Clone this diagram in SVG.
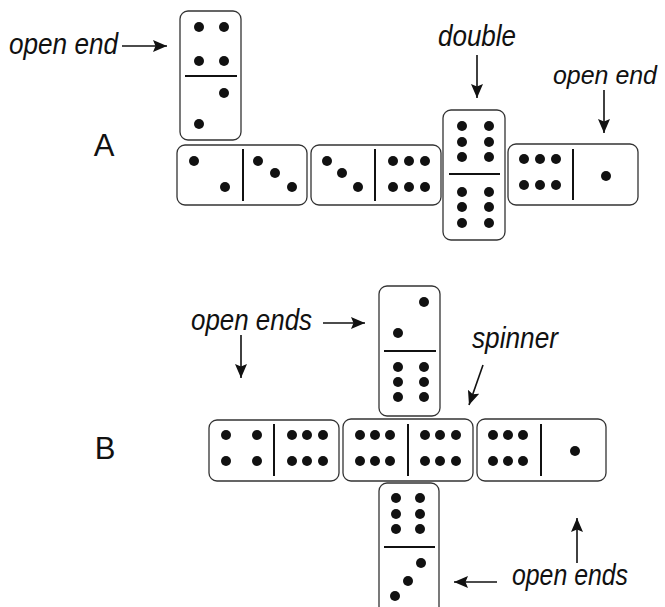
<svg xmlns="http://www.w3.org/2000/svg" width="665" height="607" viewBox="0 0 665 607">
<style>
.tile{fill:#fff;stroke:#333;stroke-width:1.3}
.div{stroke:#111;stroke-width:2}
.pip{fill:#111}
.lbl{font-family:"Liberation Sans",Arial,sans-serif;font-style:italic;font-size:30px;fill:#111}
.big{font-family:"Liberation Sans",Arial,sans-serif;font-size:31px;fill:#111}
.arr{stroke:#111;stroke-width:1.6;fill:none;marker-end:url(#ah)}
</style>
<defs>
<marker id="ah" markerUnits="userSpaceOnUse" markerWidth="16" markerHeight="13" refX="14" refY="6" orient="auto">
<path d="M0,0 L14,6 L0,12 L2.5,6 z" fill="#111"/>
</marker>
</defs>
<rect width="665" height="607" fill="#fff"/>
<g id="labelA"><text class="big" x="104" y="156" text-anchor="middle">A</text></g>
<g id="labelB"><text class="big" x="105" y="459" text-anchor="middle">B</text></g>
<g id="A-top">
<rect class="tile" x="180" y="11" width="61" height="129" rx="8"/>
<line class="div" x1="185" y1="76" x2="237" y2="76"/>
<circle class="pip" cx="199" cy="27" r="5"/><circle class="pip" cx="224" cy="27" r="5"/>
<circle class="pip" cx="199" cy="61" r="5"/><circle class="pip" cx="224" cy="61" r="5"/>
<circle class="pip" cx="224" cy="93" r="5"/><circle class="pip" cx="199" cy="124" r="5"/>
</g>
<g id="A-1">
<rect class="tile" x="177" y="145" width="130" height="60" rx="8"/>
<line class="div" x1="243" y1="149" x2="243" y2="201"/>
<circle class="pip" cx="194" cy="161" r="5"/><circle class="pip" cx="225" cy="187" r="5"/>
<circle class="pip" cx="258" cy="161" r="5"/><circle class="pip" cx="275" cy="173" r="5"/><circle class="pip" cx="292" cy="187" r="5"/>
</g>
<g id="A-2">
<rect class="tile" x="311" y="145" width="130" height="60" rx="8"/>
<line class="div" x1="375" y1="149" x2="375" y2="201"/>
<circle class="pip" cx="327" cy="161" r="5"/><circle class="pip" cx="342" cy="173" r="5"/><circle class="pip" cx="358" cy="187" r="5"/>
<circle class="pip" cx="393" cy="161" r="5"/><circle class="pip" cx="409" cy="161" r="5"/><circle class="pip" cx="425" cy="161" r="5"/>
<circle class="pip" cx="393" cy="187" r="5"/><circle class="pip" cx="409" cy="187" r="5"/><circle class="pip" cx="425" cy="187" r="5"/>
</g>
<g id="A-double">
<rect class="tile" x="443" y="110" width="62" height="130" rx="8"/>
<line class="div" x1="449" y1="174" x2="500" y2="174"/>
<circle class="pip" cx="462" cy="126" r="5"/><circle class="pip" cx="489" cy="126" r="5"/>
<circle class="pip" cx="462" cy="142" r="5"/><circle class="pip" cx="489" cy="142" r="5"/>
<circle class="pip" cx="462" cy="157" r="5"/><circle class="pip" cx="489" cy="157" r="5"/>
<circle class="pip" cx="462" cy="192" r="5"/><circle class="pip" cx="489" cy="192" r="5"/>
<circle class="pip" cx="462" cy="207" r="5"/><circle class="pip" cx="489" cy="207" r="5"/>
<circle class="pip" cx="462" cy="223" r="5"/><circle class="pip" cx="489" cy="223" r="5"/>
</g>
<g id="A-right">
<rect class="tile" x="508" y="144" width="130" height="61" rx="8"/>
<line class="div" x1="573" y1="149" x2="573" y2="200"/>
<circle class="pip" cx="524" cy="159" r="5"/><circle class="pip" cx="540" cy="159" r="5"/><circle class="pip" cx="556" cy="159" r="5"/>
<circle class="pip" cx="524" cy="185" r="5"/><circle class="pip" cx="540" cy="185" r="5"/><circle class="pip" cx="556" cy="185" r="5"/>
<circle class="pip" cx="606" cy="176" r="5"/>
</g>
<g id="B-top">
<rect class="tile" x="379" y="286" width="61" height="130" rx="8"/>
<line class="div" x1="384" y1="351" x2="436" y2="351"/>
<circle class="pip" cx="424" cy="302" r="5"/><circle class="pip" cx="398" cy="333" r="5"/>
<circle class="pip" cx="398" cy="367" r="5"/><circle class="pip" cx="424" cy="367" r="5"/>
<circle class="pip" cx="398" cy="382" r="5"/><circle class="pip" cx="424" cy="382" r="5"/>
<circle class="pip" cx="398" cy="397" r="5"/><circle class="pip" cx="424" cy="397" r="5"/>
</g>
<g id="B-1">
<rect class="tile" x="209" y="420" width="130" height="61" rx="8"/>
<line class="div" x1="274" y1="424" x2="274" y2="476"/>
<circle class="pip" cx="226" cy="435" r="5"/><circle class="pip" cx="257" cy="435" r="5"/>
<circle class="pip" cx="226" cy="461" r="5"/><circle class="pip" cx="257" cy="461" r="5"/>
<circle class="pip" cx="292" cy="435" r="5"/><circle class="pip" cx="307" cy="435" r="5"/><circle class="pip" cx="323" cy="435" r="5"/>
<circle class="pip" cx="292" cy="461" r="5"/><circle class="pip" cx="307" cy="461" r="5"/><circle class="pip" cx="323" cy="461" r="5"/>
</g>
<g id="B-spinner">
<rect class="tile" x="343" y="419" width="130" height="62" rx="8"/>
<line class="div" x1="408" y1="424" x2="408" y2="476"/>
<circle class="pip" cx="360" cy="435" r="5"/><circle class="pip" cx="375" cy="435" r="5"/><circle class="pip" cx="390" cy="435" r="5"/>
<circle class="pip" cx="360" cy="461" r="5"/><circle class="pip" cx="375" cy="461" r="5"/><circle class="pip" cx="390" cy="461" r="5"/>
<circle class="pip" cx="425" cy="435" r="5"/><circle class="pip" cx="440" cy="435" r="5"/><circle class="pip" cx="456" cy="435" r="5"/>
<circle class="pip" cx="425" cy="461" r="5"/><circle class="pip" cx="440" cy="461" r="5"/><circle class="pip" cx="456" cy="461" r="5"/>
</g>
<g id="B-right">
<rect class="tile" x="477" y="419" width="129" height="62" rx="8"/>
<line class="div" x1="541" y1="424" x2="541" y2="476"/>
<circle class="pip" cx="493" cy="435" r="5"/><circle class="pip" cx="508" cy="435" r="5"/><circle class="pip" cx="523" cy="435" r="5"/>
<circle class="pip" cx="493" cy="461" r="5"/><circle class="pip" cx="508" cy="461" r="5"/><circle class="pip" cx="523" cy="461" r="5"/>
<circle class="pip" cx="575" cy="451" r="5"/>
</g>
<g id="B-bottom">
<rect class="tile" x="379" y="483" width="60" height="134" rx="8"/>
<line class="div" x1="384" y1="547" x2="435" y2="547"/>
<circle class="pip" cx="396" cy="498" r="5"/><circle class="pip" cx="420" cy="498" r="5"/>
<circle class="pip" cx="396" cy="514" r="5"/><circle class="pip" cx="420" cy="514" r="5"/>
<circle class="pip" cx="396" cy="529" r="5"/><circle class="pip" cx="420" cy="529" r="5"/>
<circle class="pip" cx="421" cy="563" r="5"/><circle class="pip" cx="408" cy="581" r="5"/><circle class="pip" cx="395" cy="596" r="5"/>
</g>
<g id="labels">
<text class="lbl" x="9" y="54" textLength="109" lengthAdjust="spacingAndGlyphs">open end</text>
<text class="lbl" x="438" y="46" textLength="78" lengthAdjust="spacingAndGlyphs">double</text>
<text class="lbl" x="553" y="84" style="font-size:26px" textLength="104" lengthAdjust="spacingAndGlyphs">open end</text>
<text class="lbl" x="191" y="330" textLength="121" lengthAdjust="spacingAndGlyphs">open ends</text>
<text class="lbl" x="472" y="348" textLength="86" lengthAdjust="spacingAndGlyphs">spinner</text>
<text class="lbl" x="512" y="585" textLength="116" lengthAdjust="spacingAndGlyphs">open ends</text>
</g>
<g id="connectors">
<line class="arr" x1="122" y1="46" x2="167" y2="46"/>
<line class="arr" x1="477" y1="55" x2="477" y2="98"/>
<line class="arr" x1="604" y1="90" x2="604" y2="133"/>
<line class="arr" x1="323" y1="323" x2="365" y2="323"/>
<line class="arr" x1="241" y1="335" x2="241" y2="378"/>
<line class="arr" x1="483" y1="365" x2="469" y2="405"/>
<line class="arr" x1="497" y1="582" x2="454" y2="582"/>
<line class="arr" x1="577" y1="563" x2="577" y2="518"/>
</g>
</svg>
